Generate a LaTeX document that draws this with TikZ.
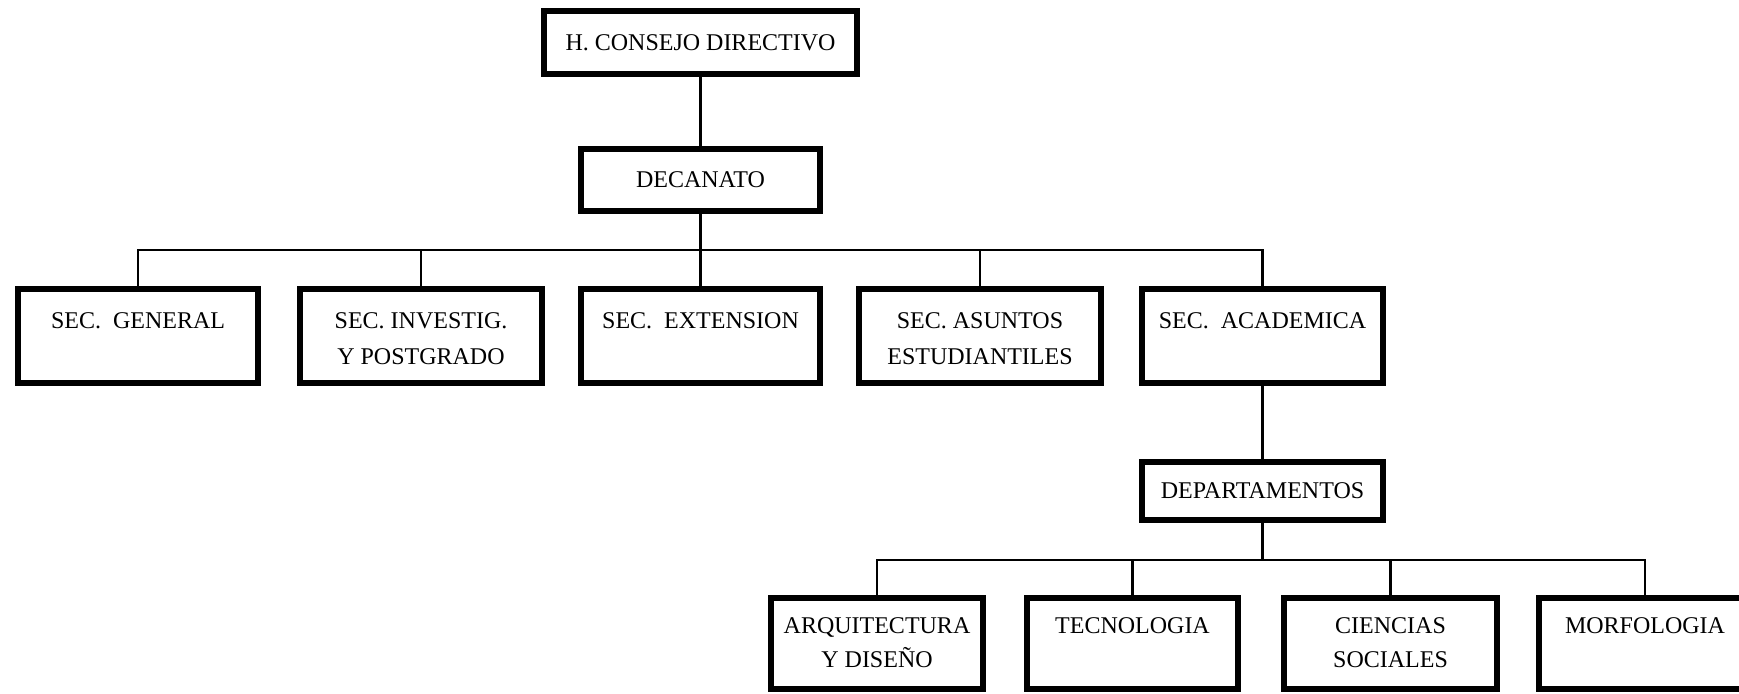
\documentclass[tikz,border=0pt]{standalone}
\usepackage{fontspec}
\setmainfont{Liberation Serif}
\usetikzlibrary{calc}
\begin{document}
\begin{tikzpicture}[x=1pt,y=-1pt,
  box/.style={draw, line width=6pt, inner sep=0pt, rectangle},
  lbl/.style={inner sep=0pt, align=center, anchor=north},
  txt/.style={font=\fontsize{24}{36}\selectfont},
  txtb/.style={font=\fontsize{24}{34}\selectfont},
  conn/.style={line width=2.6pt}]
\useasboundingbox (0,0) rectangle (1739,693);
% boxes (outer size minus line width)
\node[box, txt, minimum width=313pt, minimum height=63pt] (con) at (700.5,42.5) {H. CONSEJO DIRECTIVO};
\node[box, txt, minimum width=239pt, minimum height=62pt] (dec) at (700.5,180) {DECANATO};
\node[box, minimum width=240pt, minimum height=94pt] (gen) at (138,336) {};
\node[box, minimum width=242pt, minimum height=94pt] (inv) at (421,336) {};
\node[box, minimum width=239pt, minimum height=94pt] (ext) at (700.5,336) {};
\node[box, minimum width=242pt, minimum height=94pt] (asu) at (980,336) {};
\node[box, minimum width=241pt, minimum height=94pt] (aca) at (1262.5,336) {};
\node[box, txt, minimum width=241pt, minimum height=58pt] (dep) at (1262.5,491) {DEPARTAMENTOS};
\node[box, minimum width=212pt, minimum height=91pt] (arq) at (877,643.5) {};
\node[box, minimum width=211pt, minimum height=91pt] (tec) at (1132.5,643.5) {};
\node[box, minimum width=213pt, minimum height=91pt] (cie) at (1390.5,643.5) {};
\node[box, minimum width=212pt, minimum height=91pt] (mor) at (1645,643.5) {};
% texts
\node[lbl, txt] (tgen) at ($(gen.north)+(0,26)$) {SEC.\ \ GENERAL};
\node[lbl, txt] (tinv) at ($(inv.north)+(0,26)$) {SEC. INVESTIG.\\Y POSTGRADO};
\node[lbl, txt] (text) at ($(ext.north)+(0,26)$) {SEC.\ \ EXTENSION};
\node[lbl, txt] (tasu) at ($(asu.north)+(0,26)$) {SEC. ASUNTOS\\ESTUDIANTILES};
\node[lbl, txt] (taca) at ($(aca.north)+(0,26)$) {SEC.\ \ ACADEMICA};
\node[lbl, txtb] (tarq) at ($(arq.north)+(0,22)$) {ARQUITECTURA\\Y DISEÑO};
\node[lbl, txtb] (ttec) at ($(tec.north)+(0,22)$) {TECNOLOGIA};
\node[lbl, txtb] (tcie) at ($(cie.north)+(0,22)$) {CIENCIAS\\SOCIALES};
\node[lbl, txtb] (tmor) at ($(mor.north)+(0,22)$) {MORFOLOGIA};
% connectors
\coordinate (b1) at (700,250);
\coordinate (b2) at (1262,560);
\draw[conn] (con.south) -- (dec.north);
\draw[conn] (dec.south) -- (dec.south |- b1);
\draw[conn] (gen.north) -- (gen.north |- b1) -- (aca.north |- b1) -- (aca.north);
\draw[conn] (inv.north) -- (inv.north |- b1);
\draw[conn] (ext.north) -- (ext.north |- b1);
\draw[conn] (asu.north) -- (asu.north |- b1);
\draw[conn] (aca.south) -- (dep.north);
\draw[conn] (dep.south) -- (dep.south |- b2);
\draw[conn] (arq.north) -- (arq.north |- b2) -- (mor.north |- b2) -- (mor.north);
\draw[conn] (tec.north) -- (tec.north |- b2);
\draw[conn] (cie.north) -- (cie.north |- b2);
\end{tikzpicture}
\end{document}
